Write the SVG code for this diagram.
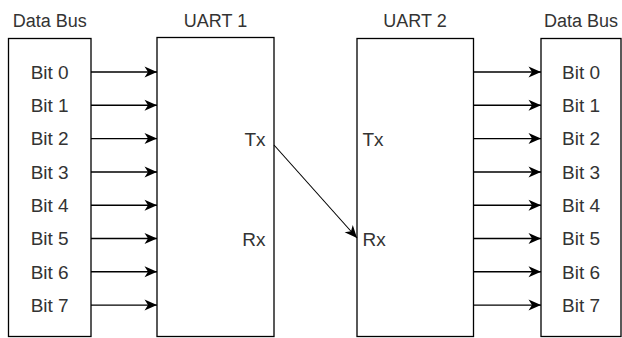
<svg xmlns="http://www.w3.org/2000/svg" width="622" height="338" viewBox="0 0 622 338">
<style>
.box{fill:#fff;stroke:#000;stroke-width:1.3}
.b{font-family:"Liberation Sans",Arial,sans-serif;fill:#333;font-size:19px;text-anchor:middle}
.h{font-family:"Liberation Sans",Arial,sans-serif;fill:#333;font-size:18px;text-anchor:middle}
.c{stroke:#000;stroke-width:1.4;fill:none;marker-end:url(#arr)}
</style>
<defs>
<marker id="arr" markerUnits="userSpaceOnUse" markerWidth="14" markerHeight="12" viewBox="-13 -6 14 12" refX="0" refY="0" orient="auto">
<path d="M0,0 L-12.5,-5.5 L-9,0 L-12.5,5.5 Z" fill="#000"/>
</marker>
</defs>
<g id="busL">
<rect class="box" x="8.5" y="38.5" width="82.5" height="298"/>
<text class="h" x="49.7" y="27">Data Bus</text>
<text class="b" x="49.7" y="78.8">Bit 0</text>
<text class="b" x="49.7" y="112.1">Bit 1</text>
<text class="b" x="49.7" y="145.4">Bit 2</text>
<text class="b" x="49.7" y="178.8">Bit 3</text>
<text class="b" x="49.7" y="212">Bit 4</text>
<text class="b" x="49.7" y="245.3">Bit 5</text>
<text class="b" x="49.7" y="278.6">Bit 6</text>
<text class="b" x="49.7" y="311.9">Bit 7</text>
</g>
<g id="uart1">
<rect class="box" x="157" y="37.5" width="117" height="299"/>
<text class="h" x="215.5" y="26.5">UART 1</text>
<text class="b" x="265.5" y="146" style="text-anchor:end">Tx</text>
<text class="b" x="265.5" y="245.5" style="text-anchor:end">Rx</text>
</g>
<g id="uart2">
<rect class="box" x="357" y="38.5" width="116.5" height="298"/>
<text class="h" x="415" y="27">UART 2</text>
<text class="b" x="362.5" y="146" style="text-anchor:start">Tx</text>
<text class="b" x="362.5" y="245.5" style="text-anchor:start">Rx</text>
</g>
<g id="busR">
<rect class="box" x="541" y="38.5" width="80" height="298"/>
<text class="h" x="581" y="27">Data Bus</text>
<text class="b" x="581" y="78.8">Bit 0</text>
<text class="b" x="581" y="112.1">Bit 1</text>
<text class="b" x="581" y="145.4">Bit 2</text>
<text class="b" x="581" y="178.8">Bit 3</text>
<text class="b" x="581" y="212">Bit 4</text>
<text class="b" x="581" y="245.3">Bit 5</text>
<text class="b" x="581" y="278.6">Bit 6</text>
<text class="b" x="581" y="311.9">Bit 7</text>
</g>
<g id="connectors">
<path class="c" d="M91,72 H157"/>
<path class="c" d="M91,105.3 H157"/>
<path class="c" d="M91,138.6 H157"/>
<path class="c" d="M91,172 H157"/>
<path class="c" d="M91,205.2 H157"/>
<path class="c" d="M91,238.5 H157"/>
<path class="c" d="M91,271.8 H157"/>
<path class="c" d="M91,305.1 H157"/>
<path class="c" d="M473.5,72 H541"/>
<path class="c" d="M473.5,105.3 H541"/>
<path class="c" d="M473.5,138.6 H541"/>
<path class="c" d="M473.5,172 H541"/>
<path class="c" d="M473.5,205.2 H541"/>
<path class="c" d="M473.5,238.5 H541"/>
<path class="c" d="M473.5,271.8 H541"/>
<path class="c" d="M473.5,305.1 H541"/>
<path class="c" d="M274,145 L357,238" style="stroke-width:1.1"/>
</g>
</svg>
